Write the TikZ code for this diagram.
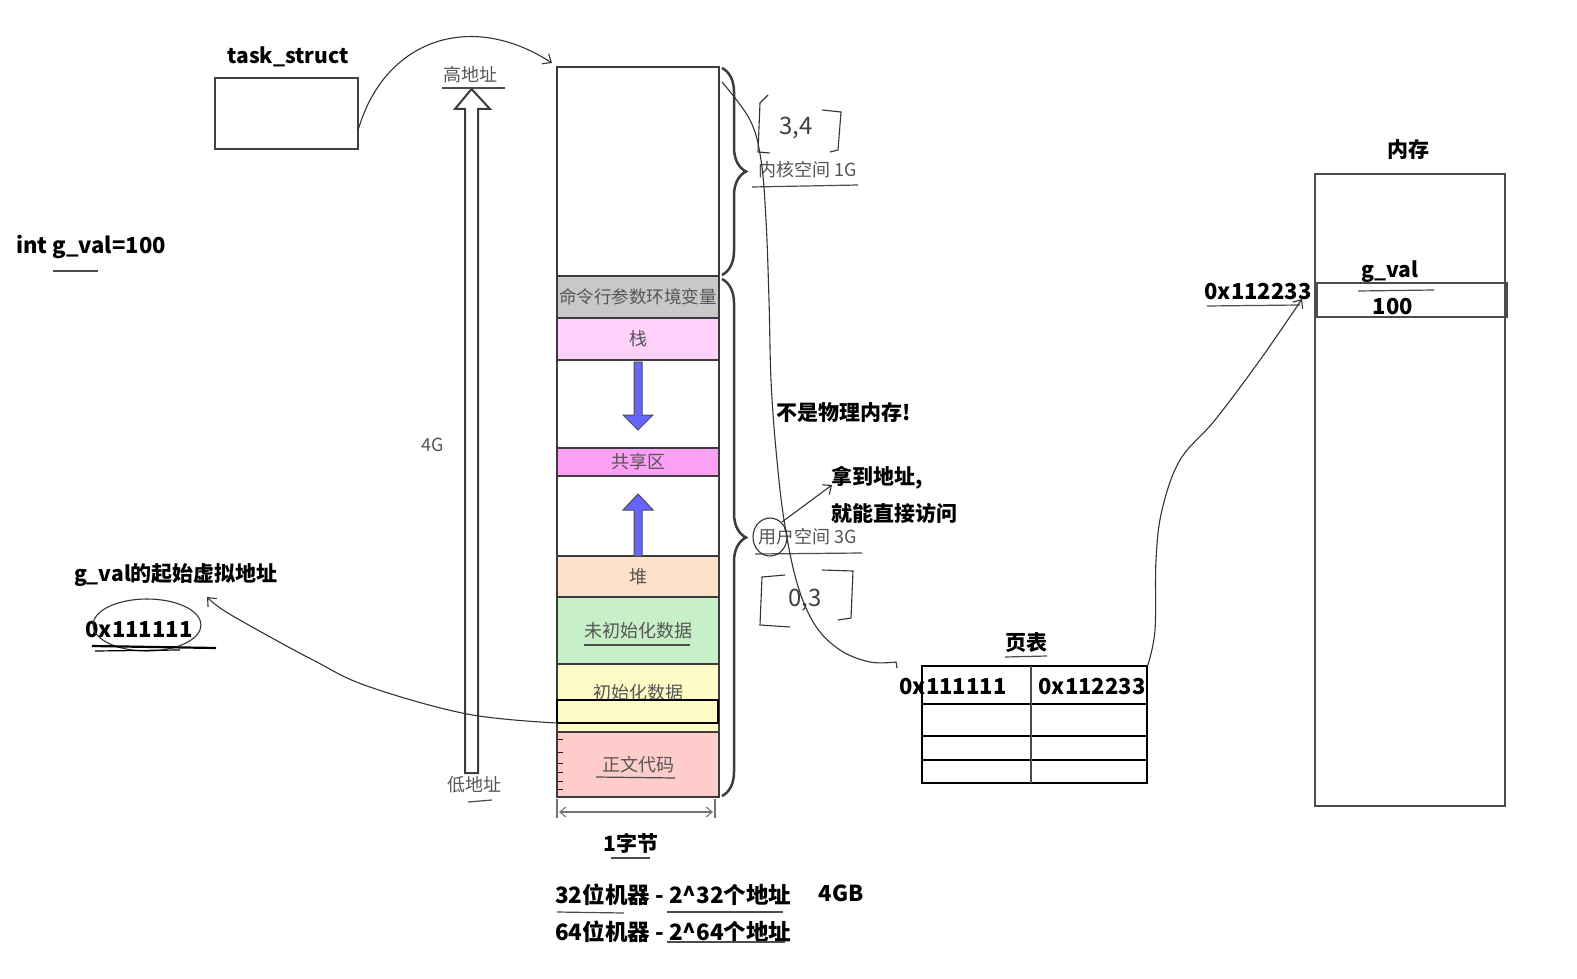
\documentclass[tikz,border=0pt]{standalone}
\usepackage{fontspec}
\setmainfont{Noto Sans CJK SC}
\usetikzlibrary{arrows.meta,decorations.pathreplacing,shapes.geometric}
\definecolor{segline}{HTML}{3C3C3C}
\definecolor{labgray}{HTML}{555555}
\definecolor{cmdgray}{HTML}{C8C8C8}
\definecolor{stackpink}{HTML}{FFD0F8}
\definecolor{sharepink}{HTML}{FBA0F5}
\definecolor{heapcol}{HTML}{FCE0C8}
\definecolor{bsscol}{HTML}{C8F0C8}
\definecolor{datacol}{HTML}{FFFBC6}
\definecolor{textcol}{HTML}{FFCCCC}
\definecolor{arrowblue}{HTML}{6666FF}
\begin{document}
\begin{tikzpicture}[x=1pt,y=-1pt,
  seg/.style={draw=segline,line width=2.5pt,minimum width=162pt,inner sep=0pt,outer sep=0pt,
    font=\fontsize{18}{20}\selectfont,text=labgray},
  bold/.style={font=\bfseries\fontsize{21}{24}\selectfont,inner sep=0pt},
  boldnum/.style={font=\bfseries\fontsize{22}{24}\selectfont,inner sep=0pt},
  lab/.style={font=\fontsize{18}{20}\selectfont,text=labgray,inner sep=0pt},
  hand/.style={line width=1.1pt,black!80},
  ul/.style={line width=1.2pt,black!70},
  barb/.style={-{Straight Barb[length=7pt,width=12pt]}},
]
\useasboundingbox (0,0) rectangle (1577,979);
\fill[white] (0,0) rectangle (1577,979);

% ---------- task_struct ----------
\node[bold] (tslab) at (288,57) {task\_struct};
\node[draw=black!75, line width=1.2pt, minimum width=143pt, minimum height=71pt, inner sep=0pt] (ts) at (286.5,113.5) {};

% ---------- hollow arrow (address direction) ----------
\filldraw[fill=white, draw=segline, line width=2pt]
  (465,773) -- (478,773) -- (478,109) -- (490,109) -- (471.5,89) -- (455,109) -- (465,109) -- cycle;
\node[lab] (hiaddr) at (470,75) {高地址};
\draw[ul] (442,88) -- (505,88);
\node[lab] (lowaddr) at (474,785) {低地址};
\draw[ul] (468,802) -- (492,800);
\node[lab] (fourg) at (433,445) {4G};

% ---------- address space column ----------
\node[seg, minimum height=209pt] (kern) at (638,171.5) {};
\node[seg, fill=cmdgray, minimum height=42pt, font=\fontsize{17.5}{20}\selectfont] (cmd) at (638,297) {命令行参数环境变量};
\node[seg, fill=stackpink, minimum height=42pt] (stack) at (638,339) {栈};
\node[seg, minimum height=88pt] (gap1) at (638,404) {};
\node[seg, fill=sharepink, minimum height=28pt] (share) at (638,462) {共享区};
\node[seg, minimum height=80pt] (gap2) at (638,516) {};
\node[seg, fill=heapcol, minimum height=41pt] (heap) at (638,576.5) {堆};
\node[seg, fill=bsscol, minimum height=67pt] (bss) at (638,630.5) {未初始化数据};
\node[seg, fill=datacol, minimum height=68pt] (data) at (638,698) {};
\node[lab] (datalab) at (638,693) {初始化数据};
\node[seg, fill=textcol, minimum height=65pt] (code) at (638,764.5) {正文代码};
\node[draw=black, line width=1.1pt, minimum width=161pt, minimum height=23pt, inner sep=0pt, outer sep=0pt] (dinner) at (637.5,711.5) {};
\draw[ul] (584,645) -- (690,645);
\draw[ul] (596,777) -- (675,778);
\foreach \yy in {739,752,763,772,781,789} \draw[red!40!black, line width=1pt] (558,\yy) -- (563,\yy);

% blue growth arrows
\filldraw[fill=arrowblue, draw=black!70, line width=1pt]
  (634,362) -- (642,362) -- (642,415) -- (653,415) -- (638,430) -- (623,415) -- (634,415) -- cycle;
\filldraw[fill=arrowblue, draw=black!70, line width=1pt]
  (634,556) -- (642,556) -- (642,510) -- (653,510) -- (638,494) -- (623,510) -- (634,510) -- cycle;

% braces
\draw[segline, line width=2.5pt, decorate, decoration={brace, amplitude=24pt}] (722,68) -- (722,275);
\draw[segline, line width=2.5pt, decorate, decoration={brace, amplitude=24pt}] (722,279) -- (722,796);
\node[lab] (kernlab) at (808,170) {内核空间 1G};
\draw[ul] (752,187) -- (858,185);
\node[lab] (userlab) at (808,537) {用户空间 3G};
\draw[ul] (755,554) -- (862,553);

% handwritten ranges
\draw[hand] (768,95) -- (760,103) -- (758,152) -- (770,153);
\draw[hand] (822,110) -- (841,112) -- (838,150) -- (830,152);
\node[font=\fontsize{24}{26}\selectfont, text=black!75, inner sep=0pt] (r34) at (796,128) {3,4};
\draw[hand] (785,575) -- (762,577) -- (760,625) -- (790,627);
\draw[hand] (822,570) -- (853,571) -- (851,618) -- (838,620);
\node[font=\fontsize{24}{26}\selectfont, text=black!75, inner sep=0pt] (r03) at (805,600) {0,3};

% byte width
\draw[black!55, line width=1.1pt] (715,799) -- (715,818);
\draw[black!55, line width=1.1pt] (557,799) -- (557,818);
\draw[black!55, line width=1.1pt, {Straight Barb[length=6pt,width=10pt]}-{Straight Barb[length=6pt,width=10pt]}] (559,812) -- (713,812);
\node[bold] (byte) at (631,843) {1字节};
\draw[ul] (611,858) -- (650,858);

\node[bold, font=\bfseries\fontsize{22.5}{26}\selectfont, anchor=west] (m32) at (555,895) {32位机器 - 2\^{}32个地址};
\node[bold, font=\bfseries\fontsize{22}{26}\selectfont] (fourgb) at (841,893) {4GB};
\node[bold, font=\bfseries\fontsize{22.5}{26}\selectfont, anchor=west] (m64) at (555,932) {64位机器 - 2\^{}64个地址};
\draw[ul] (557,912) -- (624,913);
\draw[ul] (667,912) -- (783,912);
\draw[ul] (667,942) -- (785,942);

% notes
\node[bold, anchor=west] (notphys) at (776,413) {不是物理内存!};
\node[bold, anchor=west] (getaddr) at (831,478) {拿到地址,};
\node[bold, anchor=west] (direct) at (831,513) {就能直接访问};
\draw[hand] (770,537) ellipse (17 and 19);
\coordinate (circ) at (782,522);
\draw[hand, barb] (circ) -- (832,485);

% ---------- left texts ----------
\node[bold, font=\bfseries\fontsize{22}{24}\selectfont, anchor=west] (intg) at (16,247) {int g\_val=100};
\draw[ul] (53,271) -- (98,271);
\node[bold] (gvaddr) at (176,575) {g\_val的起始虚拟地址};
\node[boldnum] (v111) at (139,630) {0x111111};
\draw[hand] (147,625) ellipse (54 and 26);
\draw[black, line width=2.2pt] (92,646) -- (216,648);
\draw[black, line width=1.2pt] (95,651) -- (180,650);

% ---------- page table ----------
\node[bold] (ptlab) at (1026,643) {页表};
\draw[ul] (1005,657) -- (1047,656);
\node[draw=black, line width=1.6pt, minimum width=225pt, minimum height=117pt, inner sep=0pt] (ptab) at (1034.5,724.5) {};
\draw[black, line width=1.4pt] (922,704) -- (1147,704);
\draw[black, line width=1.4pt] (922,736) -- (1147,736);
\draw[black, line width=1.4pt] (922,760) -- (1147,760);
\draw[black!70, line width=1.4pt] (1031,666) -- (1031,783);
\node[boldnum] (pv) at (953,687) {0x111111};
\node[boldnum] (pp) at (1092,687) {0x112233};

% ---------- physical memory ----------
\node[bold] (memlab) at (1408,150) {内存};
\node[draw=black!70, line width=1.2pt, minimum width=190pt, minimum height=632pt, inner sep=0pt] (mem) at (1410,490) {};
\node[draw=black!70, line width=1.2pt, minimum width=190pt, minimum height=34pt, inner sep=0pt] (gcell) at (1412,300) {};
\node[bold] (gvname) at (1390,272) {g\_val};
\draw[ul] (1358,291) -- (1434,290);
\node[boldnum] (hundred) at (1393,307) {100};
\node[boldnum] (paddr) at (1258,292) {0x112233};
\draw[ul] (1207,306) -- (1300,305);

% ---------- connectors ----------
\coordinate (tsend) at (552,63);
\draw[hand, barb] ([yshift=-15pt]ts.east) .. controls (385,40) and (470,10) .. (tsend);

\coordinate (vstart) at (722,82);
\coordinate (ptin) at (896,662);
\draw[hand] plot[smooth, tension=0.6] coordinates {(vstart) (750,120) (761,160) (766,220) (769,300) (771,380) (776,450) (784,520) (797,583) (815,625) (840,650) (870,662) (ptin)} -- ++(1,6);

\coordinate (gvtip) at (207,597);
\draw[hand, barb] plot[smooth, tension=0.6] coordinates {(dinner.south west) (467,714) (367,686) (313,660) (263,633) (223,610) (gvtip)};

\coordinate (ptip) at (1302,299);
\draw[hand, barb] plot[smooth, tension=0.6] coordinates {(ptab.north east) (1155,630) (1156,560) (1162,510) (1180,460) (1215,420) (1260,360) (ptip)};
\end{tikzpicture}
\end{document}
